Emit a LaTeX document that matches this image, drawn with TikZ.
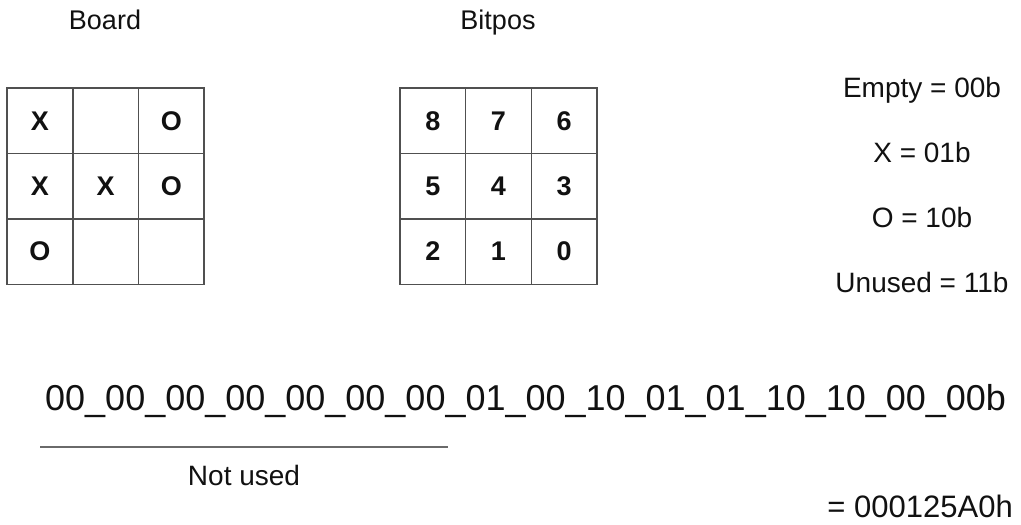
\documentclass[tikz,border=0pt]{standalone}
\usepackage{fontspec}
\setmainfont{Liberation Sans}
\begin{document}
\begin{tikzpicture}[x=1pt,y=-1pt,
  cell/.style={draw=gridgray,line width=1.5pt,minimum size=65.67pt,inner sep=0pt,
    font=\fontsize{27}{30}\selectfont\bfseries},
  title/.style={anchor=base,inner sep=0pt,font=\fontsize{27}{30}\selectfont},
  legend/.style={anchor=base,inner sep=0pt,font=\fontsize{28}{32}\selectfont},
]
\definecolor{gridgray}{HTML}{505050}
\definecolor{ink}{HTML}{111111}
\useasboundingbox[fill=white] (0,0) rectangle (1021,525);
% titles
\node[title,text=ink] (tboard) at (105,29) {Board};
\node[title,text=ink] (tbitpos) at (498,29) {Bitpos};
% board grid
\foreach \r/\c/\t in {0/0/X,0/1/{},0/2/O,1/0/X,1/1/X,1/2/O,2/0/O,2/1/{},2/2/{}}{
  \node[cell,text=ink] (b\r\c) at ({40+65.67*\c},{120.8+65.33*\r}) {\t};
}
% bitpos grid
\foreach \r/\c/\t in {0/0/8,0/1/7,0/2/6,1/0/5,1/1/4,1/2/3,2/0/2,2/1/1,2/2/0}{
  \node[cell,text=ink] (p\r\c) at ({432.8+65.67*\c},{120.8+65.33*\r}) {\t};
}
% legend
\node[legend,text=ink] (lempty) at (922,97) {Empty = 00b};
\node[legend,text=ink] (lx) at (922,162) {X = 01b};
\node[legend,text=ink] (lo) at (922,227) {O = 10b};
\node[legend,text=ink] (lun) at (922,292) {Unused = 11b};
% binary string
\node[anchor=base west,inner sep=0pt,text=ink,font=\fontsize{36}{40}\selectfont] (bin) at (45,410)
  {00\_00\_00\_00\_00\_00\_00\_01\_00\_10\_01\_01\_10\_10\_00\_00b};
% not used
\coordinate (nu1) at (40,447);
\coordinate (nu2) at (448,447);
\draw[gridgray!85,line width=1.5pt] (nu1) -- (nu2);
\node[anchor=base,inner sep=0pt,text=ink,font=\fontsize{28}{32}\selectfont] (notused) at (244,485) {Not used};
% hex
\node[anchor=base east,inner sep=0pt,text=ink,font=\fontsize{31}{34}\selectfont] (hex) at (1013,517) {= 000125A0h};
\end{tikzpicture}
\end{document}
